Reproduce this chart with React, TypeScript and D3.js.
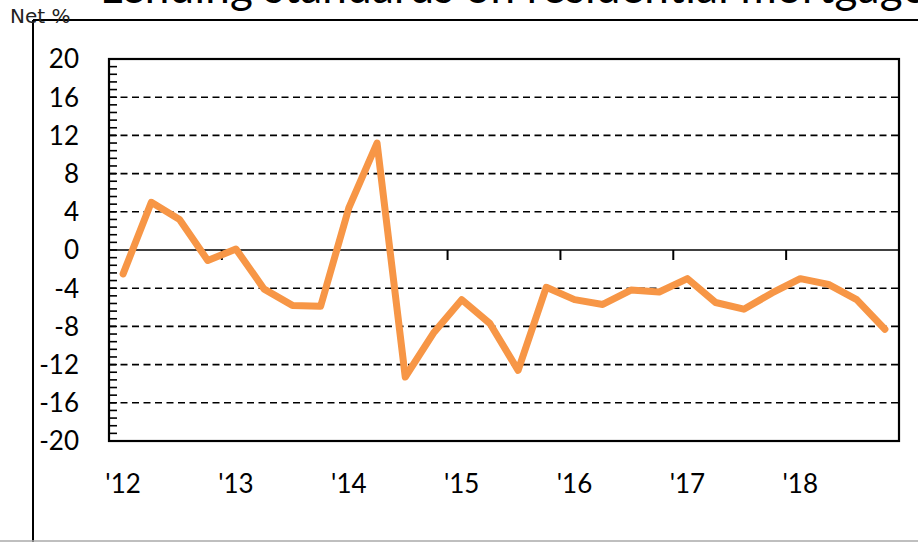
import React from "react";
import * as d3 from "d3";

const years = ["'12", "'13", "'14", "'15", "'16", "'17", "'18"];
const quartersPerYear = 4;
const values = [
  -2.5, 5.0, 3.2, -1.1,
  0.1, -4.1, -5.8, -5.9,
  4.4, 11.2, -13.3, -8.7,
  -5.2, -7.7, -12.6, -3.9,
  -5.2, -5.7, -4.2, -4.4,
  -3.0, -5.5, -6.2, -4.5,
  -3.0, -3.6, -5.2, -8.3,
];
const yTicks = [20, 16, 12, 8, 4, 0, -4, -8, -12, -16, -20];
const unitLabel = "Net %";
const titleText = "Lending standards on residential mortgages";

const W = 918;
const H = 542;
const L = 109, R = 899, T = 59, B = 441;

export default function App() {
  const n = values.length;
  const x = d3.scaleBand<number>().domain(d3.range(n)).range([L, R]).paddingInner(0).paddingOuter(0);
  const cx = (i: number) => (x(i) as number) + x.bandwidth() / 2;
  const y = d3.scaleLinear().domain([-20, 20]).range([B, T]);
  const line = d3.line<number>().x((_, i) => cx(i)).y((d) => y(d));
  const minor = d3.range(0, 51).map((k) => -20 + k * 0.8);
  const yearBounds = d3.range(0, years.length + 1).map((k) => L + k * quartersPerYear * x.bandwidth());
  const font = "Lato, 'Open Sans', sans-serif";

  return (
    <svg width={W} height={H} style={{ position: "absolute", left: 0, top: 0, background: "#fff" }}>
      <rect x={0} y={0} width={W} height={H} fill="#fff" />
      {/* clipped title */}
      <text x={100} y={3} fontFamily={font} fontSize={44} fill="#000" textLength={845} lengthAdjust="spacing">
        {titleText}
      </text>
      {/* outer frame */}
      <line x1={33} x2={W} y1={20} y2={20} stroke="#000" strokeWidth={2} />
      <line x1={33} x2={33} y1={20} y2={H} stroke="#000" strokeWidth={2} />
      <line x1={0} x2={W} y1={541} y2={541} stroke="#aaa" strokeWidth={1.5} />
      <text x={10} y={23} fontFamily="'DejaVu Sans', sans-serif" fontSize={20} fill="#222">{unitLabel}</text>

      {/* gridlines */}
      {yTicks.filter((t) => t !== 0).map((t) => (
        <line key={"g" + t} x1={L} x2={R} y1={y(t)} y2={y(t)} stroke="#000" strokeWidth={1.6} strokeDasharray="7,4.5" />
      ))}
      {/* zero axis */}
      <line x1={L} x2={R} y1={y(0)} y2={y(0)} stroke="#000" strokeWidth={1.6} />
      {yearBounds.map((bx, k) => (
        <line key={"yt" + k} x1={bx} x2={bx} y1={y(0)} y2={y(0) + 10} stroke="#000" strokeWidth={2} />
      ))}
      {/* minor ticks */}
      {minor.map((m, k) => (
        <line key={"m" + k} x1={L} x2={L + 8} y1={y(m)} y2={y(m)} stroke="#000" strokeWidth={1.6} />
      ))}
      {/* plot border */}
      <rect x={L} y={T} width={R - L} height={B - T} fill="none" stroke="#000" strokeWidth={2.2} />

      {/* y labels */}
      {yTicks.map((t) => (
        <text key={"yl" + t} x={79} y={y(t)} dy="0.36em" textAnchor="end" fontFamily={font} fontSize={26} fill="#000">
          {t}
        </text>
      ))}
      {/* x labels */}
      {years.map((yr, k) => (
        <text key={"xl" + k} x={cx(k * quartersPerYear)} y={493} textAnchor="middle" fontFamily={font} fontSize={26} fill="#000">
          {yr}
        </text>
      ))}

      <path d={line(values) || ""} fill="none" stroke="#F79646" strokeWidth={7} strokeLinejoin="round" strokeLinecap="round" />
    </svg>
  );
}
